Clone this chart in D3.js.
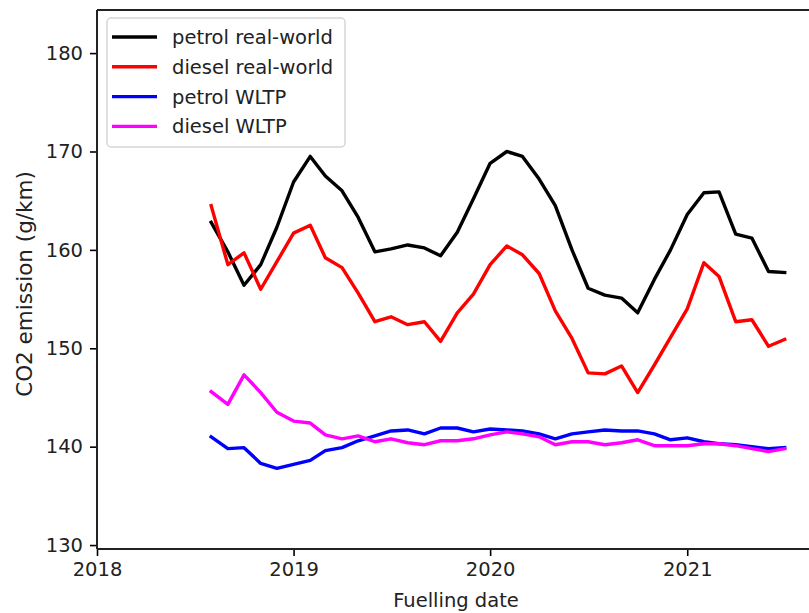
<!DOCTYPE html>
<html>
<head>
<meta charset="utf-8">
<script src="https://cdn.jsdelivr.net/npm/d3@7"></script>
<style>
  html, body { margin: 0; padding: 0; background: #fff; }
  svg { display: block; font-family: "DejaVu Sans", sans-serif; }
</style>
</head>
<body>
<svg id="chart" width="809" height="613"></svg>
<script>
// ---- data ----
const months = [
  "2018-08","2018-09","2018-10","2018-11","2018-12",
  "2019-01","2019-02","2019-03","2019-04","2019-05","2019-06","2019-07","2019-08","2019-09","2019-10","2019-11","2019-12",
  "2020-01","2020-02","2020-03","2020-04","2020-05","2020-06","2020-07","2020-08","2020-09","2020-10","2020-11","2020-12",
  "2021-01","2021-02","2021-03","2021-04","2021-05","2021-06","2021-07"
];
const petrolRealWorld = [
  162.8,159.8,156.4,158.5,162.3,
  166.9,169.5,167.5,166.0,163.3,159.8,160.1,160.5,160.2,159.4,161.8,165.2,
  168.8,170.0,169.5,167.2,164.5,160.0,156.1,155.4,155.1,153.6,157.0,160.0,
  163.6,165.8,165.9,161.6,161.2,157.8,157.7
];
const dieselRealWorld = [
  164.5,158.5,159.7,156.0,158.8,
  161.7,162.5,159.2,158.2,155.6,152.7,153.2,152.4,152.7,150.7,153.6,155.5,
  158.5,160.4,159.5,157.6,153.8,151.0,147.5,147.4,148.2,145.5,148.3,151.1,
  154.0,158.7,157.3,152.7,152.9,150.2,150.9
];
const petrolWLTP = [
  141.0,139.8,139.9,138.3,137.8,
  138.2,138.6,139.6,139.9,140.6,141.1,141.6,141.7,141.3,141.9,141.9,141.5,
  141.8,141.7,141.6,141.3,140.8,141.3,141.5,141.7,141.6,141.6,141.3,140.7,
  140.9,140.5,140.3,140.2,140.0,139.8,139.9
];
const dieselWLTP = [
  145.6,144.3,147.3,145.5,143.5,
  142.6,142.4,141.2,140.8,141.1,140.5,140.8,140.4,140.2,140.6,140.6,140.8,
  141.2,141.5,141.3,141.0,140.2,140.5,140.5,140.2,140.4,140.7,140.1,140.1,
  140.1,140.3,140.3,140.1,139.8,139.5,139.8
];
const seriesNames = ["petrol real-world","diesel real-world","petrol WLTP","diesel WLTP"];
const seriesColors = ["#000000","#ff0000","#0000ff","#ff00ff"];
const yTicks = [130,140,150,160,170,180];
const xTickYears = [2018,2019,2020,2021];

// ---- layout ----
const svg = d3.select("#chart");
const mLeft = 97, mTop = 10, mBottom = 549;
const pxPerYear = 196.7;
const parse = d3.timeParse("%Y-%m");
const dates = months.map(parse);

const x = d3.scaleTime()
  .domain([new Date(2018,0,1), new Date(2022,0,1)])
  .range([mLeft, mLeft + 4*pxPerYear]);
const y = d3.scaleLinear()
  .domain([129.6, 184.38])
  .range([mBottom, mTop]);

const fontSize = 19.5;

// axes
const xAxis = d3.axisBottom(x)
  .tickValues(xTickYears.map(yr => new Date(yr,0,1)))
  .tickFormat(d3.timeFormat("%Y"))
  .tickSizeOuter(0).tickSize(7).tickPadding(6);
const gx = svg.append("g").attr("transform", `translate(0,${mBottom})`).call(xAxis);
gx.select(".domain").remove();
gx.selectAll("line").attr("stroke","#000").attr("stroke-width",1.6);
gx.selectAll("text").attr("font-size", fontSize).attr("fill","#222")
  .attr("font-family","DejaVu Sans, sans-serif");

const yAxis = d3.axisLeft(y).tickValues(yTicks).tickSizeOuter(0).tickSize(7).tickPadding(7);
const gy = svg.append("g").attr("transform", `translate(${mLeft},0)`).call(yAxis);
gy.select(".domain").remove();
gy.selectAll("line").attr("stroke","#000").attr("stroke-width",1.6);
gy.selectAll("text").attr("font-size", fontSize).attr("fill","#222")
  .attr("font-family","DejaVu Sans, sans-serif");

// spines
svg.append("line").attr("x1",mLeft).attr("x2",809).attr("y1",mBottom).attr("y2",mBottom)
  .attr("stroke","#222").attr("stroke-width",2);
svg.append("line").attr("x1",mLeft).attr("x2",809).attr("y1",mTop).attr("y2",mTop)
  .attr("stroke","#222").attr("stroke-width",2);
svg.append("line").attr("x1",mLeft).attr("x2",mLeft).attr("y1",mTop).attr("y2",mBottom)
  .attr("stroke","#222").attr("stroke-width",2);

// lines
const allSeries = [petrolRealWorld, dieselRealWorld, petrolWLTP, dieselWLTP];
const line = d3.line().x((d,i) => x(dates[i])).y(d => y(d));
allSeries.forEach((s, k) => {
  svg.append("path").datum(s)
    .attr("d", line)
    .attr("fill","none")
    .attr("stroke", seriesColors[k])
    .attr("stroke-width", 3.4)
    .attr("stroke-linejoin","round")
    .attr("stroke-linecap","square");
});

// legend
const lg = svg.append("g");
lg.append("rect").attr("x",107).attr("y",18).attr("width",238).attr("height",129)
  .attr("rx",4).attr("fill","#fff").attr("fill-opacity",0.85)
  .attr("stroke","#d6d6d6").attr("stroke-width",1.5);
seriesNames.forEach((name, k) => {
  const yy = 37 + k*29.8;
  lg.append("line").attr("x1",112).attr("x2",157).attr("y1",yy).attr("y2",yy)
    .attr("stroke", seriesColors[k]).attr("stroke-width",3.4);
  lg.append("text").attr("x",172).attr("y",yy+7).text(name)
    .attr("font-size", fontSize).attr("fill","#222");
});

// axis labels
svg.append("text").attr("x", 456).attr("y", 607)
  .attr("text-anchor","middle").attr("font-size", fontSize).attr("fill","#222")
  .text("Fuelling date");
svg.append("text")
  .attr("transform", `translate(32,284) rotate(-90)`)
  .attr("text-anchor","middle").attr("font-size", 21.5).attr("fill","#222")
  .text("CO2 emission (g/km)");
</script>
</body>
</html>
